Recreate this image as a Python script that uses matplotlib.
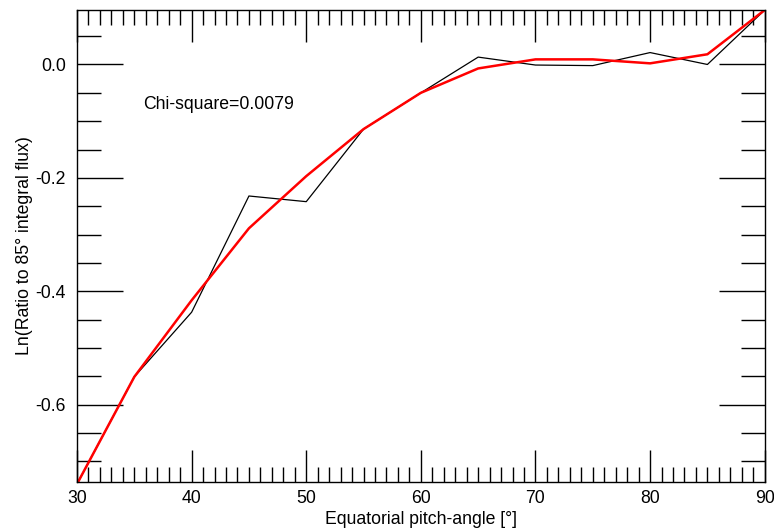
import matplotlib.pyplot as plt
from matplotlib.ticker import MultipleLocator

plt.rcParams['font.family'] = ['Liberation Sans', 'DejaVu Sans']

# pitch angles (deg)
angle = [30, 35, 40, 45, 50, 55, 60, 65, 70, 75, 80, 85, 90]
# measured ln ratio to 85 deg integral flux
ratio_obs = [-0.74, -0.551, -0.437, -0.232, -0.242, -0.114, -0.05,
             0.013, -0.001, -0.002, 0.021, 0.0, 0.096]
# fitted curve
ratio_fit = [-0.74, -0.551, -0.416, -0.289, -0.197, -0.114, -0.05,
             -0.007, 0.009, 0.009, 0.002, 0.018, 0.096]
chi_square = 0.0079

fs = 12.7

fig = plt.figure(figsize=(7.74, 5.29), dpi=100)
ax = fig.add_axes([0.0995, 0.0894, 0.8885, 0.8916])

ax.plot(angle, ratio_obs, color='black', lw=0.9)
ax.plot(angle, ratio_fit, color='red', lw=1.8)

ax.set_xlim(30, 90)
ax.set_ylim(-0.736, 0.096)
ax.xaxis.set_major_locator(MultipleLocator(10))
ax.xaxis.set_minor_locator(MultipleLocator(1))
ax.yaxis.set_major_locator(MultipleLocator(0.2))
ax.yaxis.set_minor_locator(MultipleLocator(0.05))
ax.yaxis.set_major_formatter(lambda v, p: f"{v:.1f}".replace("-0.0", "0.0"))

ax.tick_params(axis='both', which='both', direction='in', top=True, right=True,
               labelsize=fs, width=1.0, colors='black')
ax.tick_params(axis='x', which='major', length=23, pad=6)
ax.tick_params(axis='x', which='minor', length=11)
ax.tick_params(axis='y', which='major', length=33, pad=8)
ax.tick_params(axis='y', which='minor', length=17)
for s in ax.spines.values():
    s.set_linewidth(1.0)

ax.set_xlabel("Equatorial pitch-angle [°]", fontsize=fs, labelpad=3)
ax.set_ylabel("Ln(Ratio to 85° integral flux)", fontsize=fs, labelpad=2)

ax.text(35.75, -0.07, f"Chi-square={chi_square}", fontsize=fs, va='center')

fig.savefig("out.png", dpi=100)
